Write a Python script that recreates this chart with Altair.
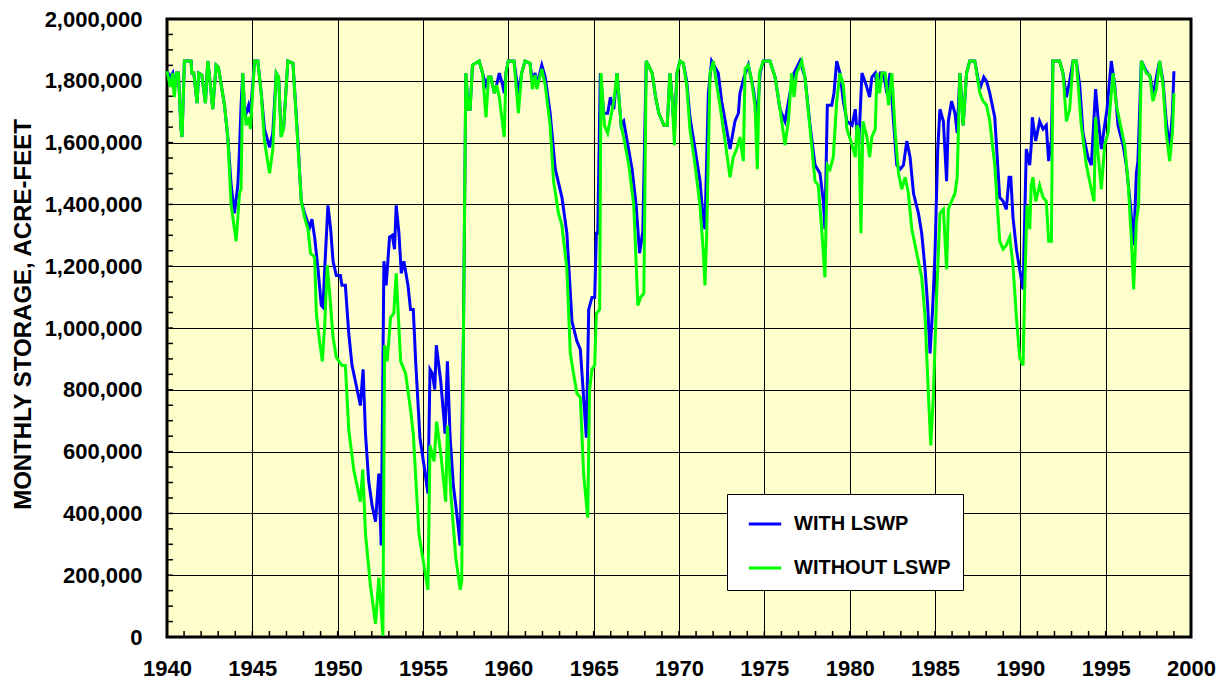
import altair as alt
import pandas as pd

# WITH LSWP (blue)
with_year = [
    1940.00, 1940.20, 1940.33, 1940.43, 1940.55, 1940.67, 1940.82, 1940.88, 1941.02, 1941.41,
    1941.45, 1941.57, 1941.76, 1941.86, 1942.04, 1942.25, 1942.39, 1942.52, 1942.68, 1942.88,
    1943.01, 1943.37, 1943.56, 1943.76, 1943.95, 1944.15, 1944.25, 1944.34, 1944.44, 1944.54,
    1944.64, 1944.78, 1944.89, 1945.13, 1945.32, 1945.52, 1945.71, 1946.01, 1946.20, 1946.40,
    1946.54, 1946.69, 1946.83, 1947.08, 1947.38, 1947.67, 1947.87, 1948.06, 1948.26, 1948.36,
    1948.49, 1948.65, 1948.85, 1949.04, 1949.14, 1949.24, 1949.43, 1949.59, 1949.73, 1949.92,
    1950.16, 1950.25, 1950.45, 1950.65, 1950.84, 1951.14, 1951.33, 1951.49, 1951.63, 1951.82,
    1952.02, 1952.22, 1952.41, 1952.55, 1952.71, 1952.84, 1953.04, 1953.20, 1953.33, 1953.43,
    1953.59, 1953.73, 1953.88, 1954.12, 1954.27, 1954.43, 1954.57, 1954.82, 1955.06, 1955.29,
    1955.41, 1955.55, 1955.69, 1955.78, 1956.04, 1956.24, 1956.29, 1956.43, 1956.59, 1956.78,
    1956.98, 1957.18, 1957.37, 1957.51, 1957.65, 1957.76, 1957.90, 1958.29, 1958.49, 1958.69,
    1958.84, 1958.98, 1959.18, 1959.31, 1959.47, 1959.67, 1959.76, 1959.86, 1960.00, 1960.33,
    1960.59, 1960.78, 1960.98, 1961.27, 1961.41, 1961.57, 1961.67, 1961.96, 1962.16, 1962.45,
    1962.75, 1963.14, 1963.43, 1963.73, 1964.02, 1964.22, 1964.57, 1964.71, 1964.90, 1965.06,
    1965.16, 1965.24, 1965.39, 1965.59, 1965.82, 1965.98, 1966.18, 1966.37, 1966.61, 1966.76,
    1966.92, 1967.25, 1967.49, 1967.69, 1967.88, 1968.08, 1968.43, 1968.63, 1968.82, 1969.12,
    1969.31, 1969.47, 1969.61, 1969.73, 1969.88, 1970.06, 1970.25, 1970.45, 1970.64, 1970.94,
    1971.23, 1971.43, 1971.52, 1971.72, 1971.91, 1972.30, 1972.50, 1972.79, 1972.99, 1973.28,
    1973.48, 1973.57, 1973.81, 1974.06, 1974.36, 1974.59, 1974.75, 1974.94, 1975.33, 1975.63,
    1975.92, 1976.21, 1976.50, 1976.74, 1977.09, 1977.38, 1977.68, 1977.97, 1978.26, 1978.46,
    1978.55, 1978.69, 1978.95, 1979.08, 1979.24, 1979.43, 1979.63, 1979.84, 1980.14, 1980.33,
    1980.43, 1980.53, 1980.72, 1980.97, 1981.17, 1981.30, 1981.50, 1981.65, 1981.79, 1981.98,
    1982.18, 1982.37, 1982.57, 1982.76, 1982.96, 1983.15, 1983.35, 1983.54, 1983.74, 1984.03,
    1984.22, 1984.42, 1984.57, 1984.71, 1984.86, 1985.00, 1985.16, 1985.29, 1985.49, 1985.68,
    1985.78, 1985.97, 1986.17, 1986.30, 1986.46, 1986.65, 1986.85, 1987.04, 1987.33, 1987.63,
    1987.86, 1988.02, 1988.21, 1988.50, 1988.79, 1988.99, 1989.18, 1989.34, 1989.44, 1989.57,
    1989.77, 1989.96, 1990.16, 1990.35, 1990.55, 1990.64, 1990.70, 1990.90, 1991.13, 1991.33,
    1991.52, 1991.66, 1991.82, 1991.91, 1992.30, 1992.50, 1992.70, 1992.89, 1993.09, 1993.28,
    1993.48, 1993.67, 1993.96, 1994.16, 1994.41, 1994.55, 1994.75, 1994.94, 1995.08, 1995.33,
    1995.53, 1995.72, 1996.02, 1996.21, 1996.45, 1996.64, 1996.80, 1996.89, 1997.09, 1997.38,
    1997.62, 1997.77, 1997.97, 1998.16, 1998.36, 1998.55, 1998.75, 1998.91, 1999.00,
]
with_value = [
    1831000, 1812000, 1825000, 1770000, 1825000, 1825000, 1644000, 1618000, 1864000, 1864000,
    1825000, 1825000, 1728000, 1825000, 1819000, 1728000, 1864000, 1799000, 1708000, 1851000,
    1844000, 1721000, 1618000, 1462000, 1371000, 1462000, 1579000, 1721000, 1825000, 1708000,
    1695000, 1721000, 1695000, 1864000, 1864000, 1760000, 1644000, 1585000, 1631000, 1825000,
    1812000, 1631000, 1644000, 1864000, 1857000, 1605000, 1410000, 1371000, 1339000, 1326000,
    1352000, 1294000, 1190000, 1073000, 1067000, 1190000, 1397000, 1320000, 1216000, 1170000,
    1170000, 1138000, 1138000, 983000, 879000, 801000, 749000, 866000, 658000, 503000,
    425000, 373000, 529000, 296000, 1216000, 1138000, 1294000, 1300000, 1255000, 1397000,
    1307000, 1177000, 1216000, 1138000, 1060000, 1060000, 892000, 645000, 555000, 464000,
    866000, 853000, 801000, 944000, 827000, 697000, 658000, 892000, 645000, 490000,
    399000, 296000, 983000, 1825000, 1708000, 1708000, 1851000, 1864000, 1825000, 1786000,
    1812000, 1812000, 1760000, 1786000, 1825000, 1786000, 1760000, 1825000, 1864000, 1864000,
    1760000, 1825000, 1864000, 1857000, 1799000, 1825000, 1786000, 1851000, 1812000, 1695000,
    1514000, 1423000, 1307000, 1021000, 957000, 931000, 645000, 1060000, 1099000, 1099000,
    1307000, 1307000, 1825000, 1695000, 1695000, 1747000, 1708000, 1825000, 1656000, 1669000,
    1618000, 1514000, 1397000, 1242000, 1313000, 1864000, 1825000, 1747000, 1695000, 1656000,
    1656000, 1825000, 1734000, 1630000, 1825000, 1864000, 1857000, 1799000, 1682000, 1579000,
    1475000, 1345000, 1320000, 1760000, 1864000, 1825000, 1734000, 1644000, 1579000, 1669000,
    1695000, 1760000, 1812000, 1851000, 1773000, 1682000, 1825000, 1864000, 1864000, 1812000,
    1708000, 1669000, 1760000, 1825000, 1864000, 1812000, 1656000, 1527000, 1501000, 1410000,
    1320000, 1721000, 1721000, 1760000, 1864000, 1825000, 1734000, 1669000, 1656000, 1708000,
    1631000, 1592000, 1825000, 1786000, 1747000, 1812000, 1825000, 1760000, 1825000, 1825000,
    1760000, 1825000, 1669000, 1527000, 1514000, 1527000, 1605000, 1553000, 1436000, 1371000,
    1307000, 1190000, 1073000, 918000, 1060000, 1242000, 1579000, 1708000, 1669000, 1475000,
    1669000, 1734000, 1695000, 1631000, 1825000, 1656000, 1825000, 1864000, 1864000, 1773000,
    1812000, 1799000, 1760000, 1682000, 1423000, 1410000, 1384000, 1488000, 1488000, 1358000,
    1255000, 1190000, 1125000, 1579000, 1527000, 1592000, 1682000, 1605000, 1669000, 1644000,
    1656000, 1540000, 1605000, 1864000, 1864000, 1825000, 1747000, 1799000, 1864000, 1864000,
    1786000, 1631000, 1553000, 1527000, 1773000, 1682000, 1579000, 1656000, 1708000, 1864000,
    1786000, 1656000, 1592000, 1527000, 1397000, 1268000, 1501000, 1540000, 1864000, 1831000,
    1812000, 1747000, 1812000, 1864000, 1799000, 1669000, 1579000, 1695000, 1831000,
]

# WITHOUT LSWP (green)
without_year = [
    1940.00, 1940.20, 1940.33, 1940.43, 1940.55, 1940.67, 1940.82, 1940.88, 1941.02, 1941.41,
    1941.45, 1941.57, 1941.76, 1941.86, 1942.04, 1942.25, 1942.39, 1942.52, 1942.68, 1942.88,
    1943.01, 1943.37, 1943.56, 1943.76, 1944.05, 1944.25, 1944.34, 1944.44, 1944.54, 1944.64,
    1944.78, 1944.89, 1945.13, 1945.32, 1945.52, 1945.71, 1946.01, 1946.20, 1946.40, 1946.54,
    1946.69, 1946.83, 1947.08, 1947.38, 1947.67, 1947.87, 1948.06, 1948.26, 1948.41, 1948.65,
    1948.75, 1948.94, 1949.10, 1949.24, 1949.39, 1949.53, 1949.73, 1949.92, 1950.25, 1950.45,
    1950.65, 1950.94, 1951.33, 1951.47, 1951.63, 1951.92, 1952.22, 1952.41, 1952.65, 1952.75,
    1952.90, 1953.10, 1953.29, 1953.43, 1953.69, 1953.98, 1954.27, 1954.43, 1954.76, 1955.06,
    1955.29, 1955.41, 1955.65, 1955.80, 1956.04, 1956.33, 1956.43, 1956.63, 1956.92, 1957.18,
    1957.27, 1957.37, 1957.51, 1957.65, 1957.76, 1957.90, 1958.29, 1958.49, 1958.69, 1958.84,
    1958.98, 1959.18, 1959.31, 1959.47, 1959.76, 1959.86, 1960.00, 1960.33, 1960.59, 1960.78,
    1960.98, 1961.27, 1961.41, 1961.57, 1961.67, 1961.96, 1962.16, 1962.45, 1962.65, 1962.94,
    1963.14, 1963.43, 1963.63, 1963.82, 1964.02, 1964.22, 1964.41, 1964.65, 1964.76, 1964.90,
    1965.06, 1965.16, 1965.35, 1965.43, 1965.63, 1965.82, 1966.18, 1966.37, 1966.61, 1966.80,
    1967.06, 1967.35, 1967.59, 1967.75, 1967.94, 1968.08, 1968.43, 1968.63, 1968.82, 1969.12,
    1969.31, 1969.47, 1969.61, 1969.73, 1969.88, 1970.06, 1970.25, 1970.45, 1970.64, 1970.94,
    1971.23, 1971.43, 1971.52, 1971.62, 1971.82, 1972.01, 1972.21, 1972.40, 1972.70, 1972.99,
    1973.18, 1973.38, 1973.57, 1973.77, 1973.87, 1974.06, 1974.26, 1974.45, 1974.59, 1974.71,
    1974.94, 1975.33, 1975.63, 1975.92, 1976.21, 1976.41, 1976.60, 1976.74, 1976.89, 1977.19,
    1977.38, 1977.68, 1977.97, 1978.16, 1978.36, 1978.55, 1978.69, 1978.85, 1979.04, 1979.24,
    1979.43, 1979.63, 1979.84, 1980.14, 1980.33, 1980.43, 1980.53, 1980.66, 1980.78, 1981.01,
    1981.17, 1981.30, 1981.50, 1981.60, 1981.75, 1981.89, 1982.08, 1982.28, 1982.47, 1982.67,
    1982.86, 1983.05, 1983.25, 1983.44, 1983.64, 1983.93, 1984.22, 1984.42, 1984.61, 1984.75,
    1984.90, 1985.10, 1985.29, 1985.49, 1985.68, 1985.78, 1985.97, 1986.17, 1986.30, 1986.46,
    1986.65, 1986.85, 1987.04, 1987.33, 1987.63, 1987.82, 1988.02, 1988.21, 1988.50, 1988.79,
    1988.99, 1989.18, 1989.38, 1989.57, 1989.77, 1989.96, 1990.16, 1990.25, 1990.39, 1990.55,
    1990.64, 1990.74, 1990.90, 1991.13, 1991.33, 1991.52, 1991.66, 1991.82, 1991.91, 1992.30,
    1992.50, 1992.70, 1992.89, 1993.09, 1993.28, 1993.57, 1993.87, 1994.06, 1994.32, 1994.41,
    1994.55, 1994.75, 1994.94, 1995.14, 1995.43, 1995.63, 1995.82, 1996.11, 1996.31, 1996.50,
    1996.64, 1996.80, 1996.93, 1997.09, 1997.38, 1997.58, 1997.77, 1997.97, 1998.16, 1998.36,
    1998.55, 1998.75, 1998.91, 1999.00,
]
without_value = [
    1831000, 1780000, 1825000, 1747000, 1825000, 1825000, 1644000, 1618000, 1864000, 1864000,
    1825000, 1825000, 1728000, 1825000, 1819000, 1728000, 1864000, 1799000, 1708000, 1851000,
    1844000, 1721000, 1618000, 1397000, 1281000, 1436000, 1449000, 1825000, 1708000, 1656000,
    1682000, 1644000, 1864000, 1864000, 1760000, 1605000, 1501000, 1579000, 1825000, 1812000,
    1618000, 1644000, 1864000, 1857000, 1592000, 1410000, 1358000, 1320000, 1242000, 1229000,
    1047000, 957000, 892000, 1008000, 1203000, 1112000, 970000, 905000, 879000, 879000,
    671000, 542000, 438000, 542000, 334000, 166000, 43000, 192000, 4000, 944000,
    892000, 1034000, 1047000, 1177000, 892000, 853000, 736000, 658000, 334000, 231000,
    153000, 620000, 568000, 697000, 594000, 438000, 684000, 464000, 257000, 153000,
    179000, 983000, 1825000, 1708000, 1708000, 1851000, 1864000, 1825000, 1682000, 1812000,
    1812000, 1760000, 1786000, 1747000, 1618000, 1825000, 1864000, 1864000, 1695000, 1825000,
    1864000, 1857000, 1773000, 1819000, 1773000, 1838000, 1786000, 1656000, 1475000, 1371000,
    1332000, 1190000, 918000, 853000, 788000, 775000, 529000, 386000, 801000, 866000,
    879000, 1047000, 1060000, 1825000, 1656000, 1631000, 1734000, 1825000, 1656000, 1605000,
    1527000, 1397000, 1073000, 1099000, 1112000, 1864000, 1825000, 1747000, 1695000, 1656000,
    1656000, 1825000, 1734000, 1592000, 1825000, 1864000, 1857000, 1786000, 1644000, 1527000,
    1397000, 1242000, 1138000, 1294000, 1825000, 1864000, 1786000, 1721000, 1605000, 1488000,
    1553000, 1579000, 1618000, 1540000, 1838000, 1851000, 1799000, 1721000, 1514000, 1825000,
    1864000, 1864000, 1812000, 1708000, 1592000, 1669000, 1825000, 1747000, 1825000, 1864000,
    1812000, 1644000, 1475000, 1462000, 1320000, 1164000, 1527000, 1514000, 1553000, 1734000,
    1825000, 1786000, 1644000, 1592000, 1553000, 1656000, 1644000, 1307000, 1669000, 1618000,
    1553000, 1618000, 1644000, 1825000, 1760000, 1825000, 1825000, 1721000, 1825000, 1631000,
    1501000, 1449000, 1488000, 1436000, 1320000, 1242000, 1164000, 1034000, 788000, 620000,
    775000, 1112000, 1371000, 1384000, 1190000, 1384000, 1410000, 1436000, 1488000, 1825000,
    1656000, 1825000, 1864000, 1864000, 1760000, 1734000, 1721000, 1669000, 1527000, 1281000,
    1255000, 1268000, 1294000, 1203000, 1034000, 905000, 879000, 1112000, 1397000, 1320000,
    1462000, 1488000, 1410000, 1462000, 1423000, 1410000, 1281000, 1281000, 1864000, 1864000,
    1825000, 1669000, 1708000, 1864000, 1864000, 1656000, 1527000, 1475000, 1410000, 1682000,
    1566000, 1449000, 1592000, 1631000, 1825000, 1721000, 1669000, 1592000, 1475000, 1294000,
    1125000, 1345000, 1397000, 1864000, 1825000, 1819000, 1734000, 1773000, 1864000, 1786000,
    1631000, 1540000, 1631000, 1760000,
]

series_names = ["WITH LSWP", "WITHOUT LSWP"]
series_colors = ["#0000FF", "#00FF00"]

x_ticks = list(range(1940, 2001, 5))
x_minor = list(range(1940, 2001, 1))
y_ticks = list(range(0, 2000001, 200000))
y_minor = list(range(0, 2000001, 50000))

df = pd.concat([
    pd.DataFrame({"year": with_year, "storage": with_value, "series": series_names[0]}),
    pd.DataFrame({"year": without_year, "storage": without_value, "series": series_names[1]}),
], ignore_index=True)

FONT = "Liberation Sans"

x_scale = alt.Scale(domain=[1940, 2000], nice=False, zero=False)
y_scale = alt.Scale(domain=[0, 2000000], nice=False)

lines = alt.Chart(df).mark_line(strokeWidth=3).encode(
    x=alt.X("year:Q", scale=x_scale,
            axis=alt.Axis(values=x_ticks, format="d", title=None, grid=True,
                          gridColor="#000000", gridWidth=1, ticks=False, tickSize=0,
                          domain=False, labelPadding=21, labelFontSize=22,
                          labelFlush=False, labelOverlap=False,
                          labelFont=FONT, labelFontWeight="bold", labelColor="#000000")),
    y=alt.Y("storage:Q", scale=y_scale,
            axis=alt.Axis(values=y_ticks, format=",d", title="MONTHLY STORAGE, ACRE-FEET",
                          grid=True, gridColor="#000000", gridWidth=1, ticks=False,
                          tickSize=0, domain=False, labelPadding=25, labelFontSize=22,
                          labelFlush=False, labelOverlap=False,
                          labelFont=FONT, labelFontWeight="bold", labelColor="#000000",
                          titleFont=FONT, titleFontSize=24, titleFontWeight="bold",
                          titleColor="#000000", titlePadding=9, titleY=295)),
    color=alt.Color("series:N", title=None,
                    scale=alt.Scale(domain=series_names, range=series_colors),
                    legend=alt.Legend(orient="none", legendX=560, legendY=475,
                                      symbolType="stroke", symbolSize=1050,
                                      symbolStrokeWidth=3, symbolOffset=8,
                                      labelFont=FONT,
                                      labelFontSize=20, labelFontWeight="bold",
                                      labelColor="#000000", labelOffset=11,
                                      rowPadding=16, padding=12, fillColor="#FFFFFF",
                                      strokeColor="#000000")),
    order=alt.Order("year:Q"),
)

ymin_df = pd.DataFrame({"v": y_minor})
xmin_df = pd.DataFrame({"v": x_minor})

y_minor_ticks = alt.Chart(ymin_df).mark_rule(color="#000000", strokeWidth=1.5).encode(
    y=alt.Y("v:Q", scale=y_scale),
    x=alt.value(0),
    x2=alt.value(6),
)
x_minor_ticks = alt.Chart(xmin_df).mark_rule(color="#000000", strokeWidth=1.5).encode(
    x=alt.X("v:Q", scale=x_scale),
    y=alt.value(618),
    y2=alt.value(612),
)

chart = alt.layer(y_minor_ticks, x_minor_ticks, lines).properties(
    width=1024,
    height=618,
    autosize="none",
    padding={"left": 159, "top": 11, "right": 29, "bottom": 45},
    background="#FFFFFF",
).configure_view(
    fill="#FFFFCC",
    stroke="#000000",
    strokeWidth=3,
)

chart.save("out.html", embed_options={"renderer": "svg", "actions": False})
